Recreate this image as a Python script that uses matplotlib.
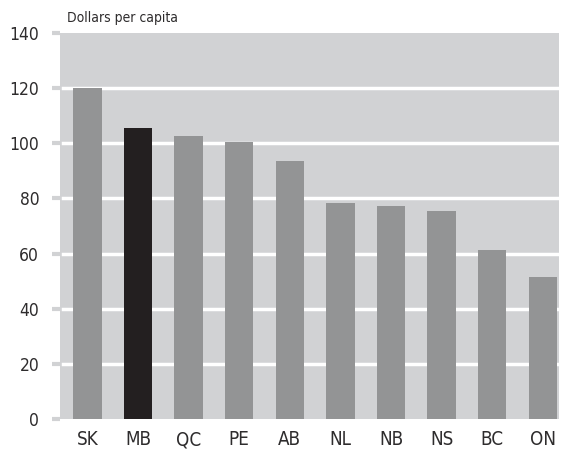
import matplotlib
matplotlib.use("Agg")
import matplotlib.pyplot as plt

provinces = ["SK", "MB", "QC", "PE", "AB", "NL", "NB", "NS", "BC", "ON"]
values = [120, 105.5, 102.5, 100.3, 93.4, 78.5, 77.4, 75.4, 61.3, 51.4]
highlight = "MB"
yticks = [0, 20, 40, 60, 80, 100, 120, 140]
ylabel = "Dollars per capita"

plt.rcParams['font.family'] = ['DejaVu Sans']
plt.rcParams['font.stretch'] = 'condensed'

fig = plt.figure(figsize=(5.63, 4.49), dpi=100)
ax = fig.add_axes([60/563, 1-419/449, (559-60)/563, (419-33)/449])
ax.set_facecolor("#d1d2d4")

x = list(range(len(provinces)))
colors = ["#231f20" if p == highlight else "#939495" for p in provinces]
ax.bar(x, values, width=0.56, color=colors, zorder=3)

ax.set_ylim(0, 140)
ax.set_xlim(-0.543, 9.32)
ax.set_yticks(yticks)
ax.set_yticklabels([str(t) for t in yticks])
for t in yticks[1:-1]:
    ax.axhline(t, color="white", lw=2.5, zorder=2, xmin=0.006, xmax=1)

ax.set_xticks(x)
ax.set_xticklabels(provinces)
ax.tick_params(axis='x', length=0, pad=8, labelsize=13.5, labelcolor="#2e2c2d")
ax.tick_params(axis='y', length=6, width=3, color="#d1d2d4", pad=9, labelsize=12.5, labelcolor="#2e2c2d")
for s in ax.spines.values():
    s.set_visible(False)

fig.text(67/563, 1-18/449, ylabel, ha="left", va="center", fontsize=10, color="#2e2c2d")

fig.savefig("out.png", dpi=100)
